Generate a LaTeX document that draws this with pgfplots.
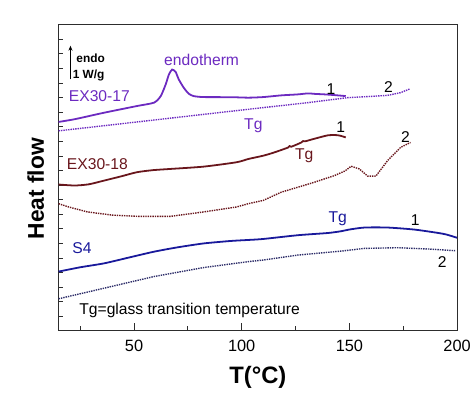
\documentclass[border=0pt]{standalone}
\usepackage{fontspec}
\setmainfont{Liberation Sans}
\usepackage{pgfplots}
\pgfplotsset{compat=1.18}
\usetikzlibrary{calc,arrows.meta}
\definecolor{cpur}{RGB}{108,42,192}
\definecolor{cmar}{RGB}{105,22,28}
\definecolor{cnav}{RGB}{25,25,155}
\definecolor{cnavd}{RGB}{45,45,105}
\definecolor{cfr}{RGB}{45,45,45}
\begin{document}
\begin{tikzpicture}
\begin{axis}[name=ax, scale only axis, width=401bp, height=308bp,
  xmin=15, xmax=200, ymin=0, ymax=308,
  xtick={50,100,150,200}, minor xtick={25,75,125,175},
  ytick={0}, yticklabels={}, minor ytick={14.6667,29.3333,...,300},
  tick align=inside, xtick pos=bottom, ytick pos=left,
  major tick length=8bp, minor tick length=4.5bp,
  axis line style={cfr, line width=1.1bp}, tick style={cfr, line width=1bp},
  /pgf/number format/assume math mode=true,
  xticklabel style={font=\fontsize{16.5}{19}\selectfont, yshift=-6bp},
  clip=false]
% EX30-17
\addplot[cpur, line width=1.8bp, smooth, tension=0.4] coordinates {
(15,210.3) (22.4,213) (36.2,219.6) (51.4,226.3) (59.3,229.7) (62.4,236.3) (64.7,248) (66.2,258) (67.7,263) (69.3,260.7) (70.8,253) (73.1,244.7) (75.4,238.7) (77.7,236.3) (82.3,235.3) (95,235.2) (103.1,234.7) (110,235.3) (118.3,237) (126,238) (130.8,239) (134,238.5) (138.6,238) (143,237.3) (148.3,236.3)};
\addplot[cpur, line width=1.4bp, densely dotted] coordinates {
(15,201.3) (59.3,212.2) (82.3,217.9) (110,224.7) (130,229.5) (149.2,234.7) (160,236) (167.7,237) (173.7,239.7) (178.3,243.7)};
% EX30-18
\addplot[cmar, line width=1.8bp, smooth, tension=0.4] coordinates {
(15,147.3) (22.4,146.3) (29,147.5) (36.2,151.3) (44,155.5) (51.4,159.7) (59,161.8) (67.1,163) (82.3,165.3) (97.6,169.7) (103.1,173) (110,176.3) (115,179.5) (121.5,184.5) (122.2,186) (123,185.3) (127.6,189.5) (128.5,191) (129.5,190.8) (134,193.5) (140,196.8) (144,197) (146,196.3) (148.3,194.7)};
\addplot[cmar, line width=1.4bp, densely dotted] coordinates {
(15,128) (20,124.5) (28.4,119.7) (40,116.5) (51.4,115.3) (67.1,115.3) (82.3,119.7) (97.6,124.7) (103.1,128) (110,131.3) (118.5,139.7) (126,144.5) (133.9,149.7) (143.1,156.3) (148,161) (150.8,165.7) (154.6,163) (158.5,155.7) (162.3,155.7) (167.7,171.3) (173.8,184.7) (178.4,189.7)};
% S4
\addplot[cnav, line width=1.8bp, smooth, tension=0.4] coordinates {
(15,59.7) (25,64) (36.2,68) (48,74) (59.3,79.7) (70,84) (82.3,88) (95,90.5) (103.1,91.5) (110,92.5) (126.2,96.3) (140,98.5) (146.2,100.3) (150,102) (157,104) (167.7,104) (180,102) (190.8,98.7) (195,97) (200,93.7)};
\addplot[cnavd, line width=1.4bp, densely dotted] coordinates {
(15,32.3) (36.2,43) (59.3,54.7) (82.3,63.7) (103.1,69.7) (110,71.3) (126.2,76.3) (146.2,80.3) (157,83) (172.3,83.7) (187.5,82.3) (199.1,80.7)};
% annotations
\draw[-{Stealth[length=5bp,width=4bp]}, line width=0.9bp] (axis cs:20.5,253) -- (axis cs:20.5,287);
\node[anchor=west, inner sep=0, font=\bfseries\fontsize{12}{14}\selectfont] at (axis cs:23.2,274) {endo};
\node[anchor=west, inner sep=0, font=\bfseries\fontsize{12}{14}\selectfont] at (axis cs:21.5,257) {1 W/g};
\begin{scope}[every node/.style={font=\fontsize{15.8}{18}\selectfont, inner sep=0}]
\node[text=cpur] at (axis cs:81.4,273) {endotherm};
\node[text=cpur] at (axis cs:33.9,236) {EX30-17};
\node at (axis cs:141.4,243) {1};
\node at (axis cs:168.2,245) {2};
\node[text=cpur] at (axis cs:105.4,206) {Tg};
\node[text=cmar] at (axis cs:33.0,168) {EX30-18};
\node at (axis cs:146,205) {1};
\node[text=cmar] at (axis cs:129,176) {Tg};
\node at (axis cs:176,195) {2};
\node[text=cnav] at (axis cs:25.8,83) {S4};
\node[text=cnav] at (axis cs:144.6,113) {Tg};
\node at (axis cs:180.6,111) {1};
\node at (axis cs:193.1,69) {2};
\node at (axis cs:75.8,20.3) {Tg=glass transition temperature};
\end{scope}
\end{axis}
\node[rotate=90, font=\bfseries\fontsize{23}{26}\selectfont] at ($(ax.south west)+(-23bp,143bp)$) {Heat flow};
\node[font=\bfseries\fontsize{24}{28}\selectfont] at ($(ax.south)+(0,-47bp)$) {T(°C)};
\path ($(ax.south west)+(-59bp,-65bp)$) rectangle ($(ax.north east)+(14bp,25bp)$);
\end{tikzpicture}
\end{document}
